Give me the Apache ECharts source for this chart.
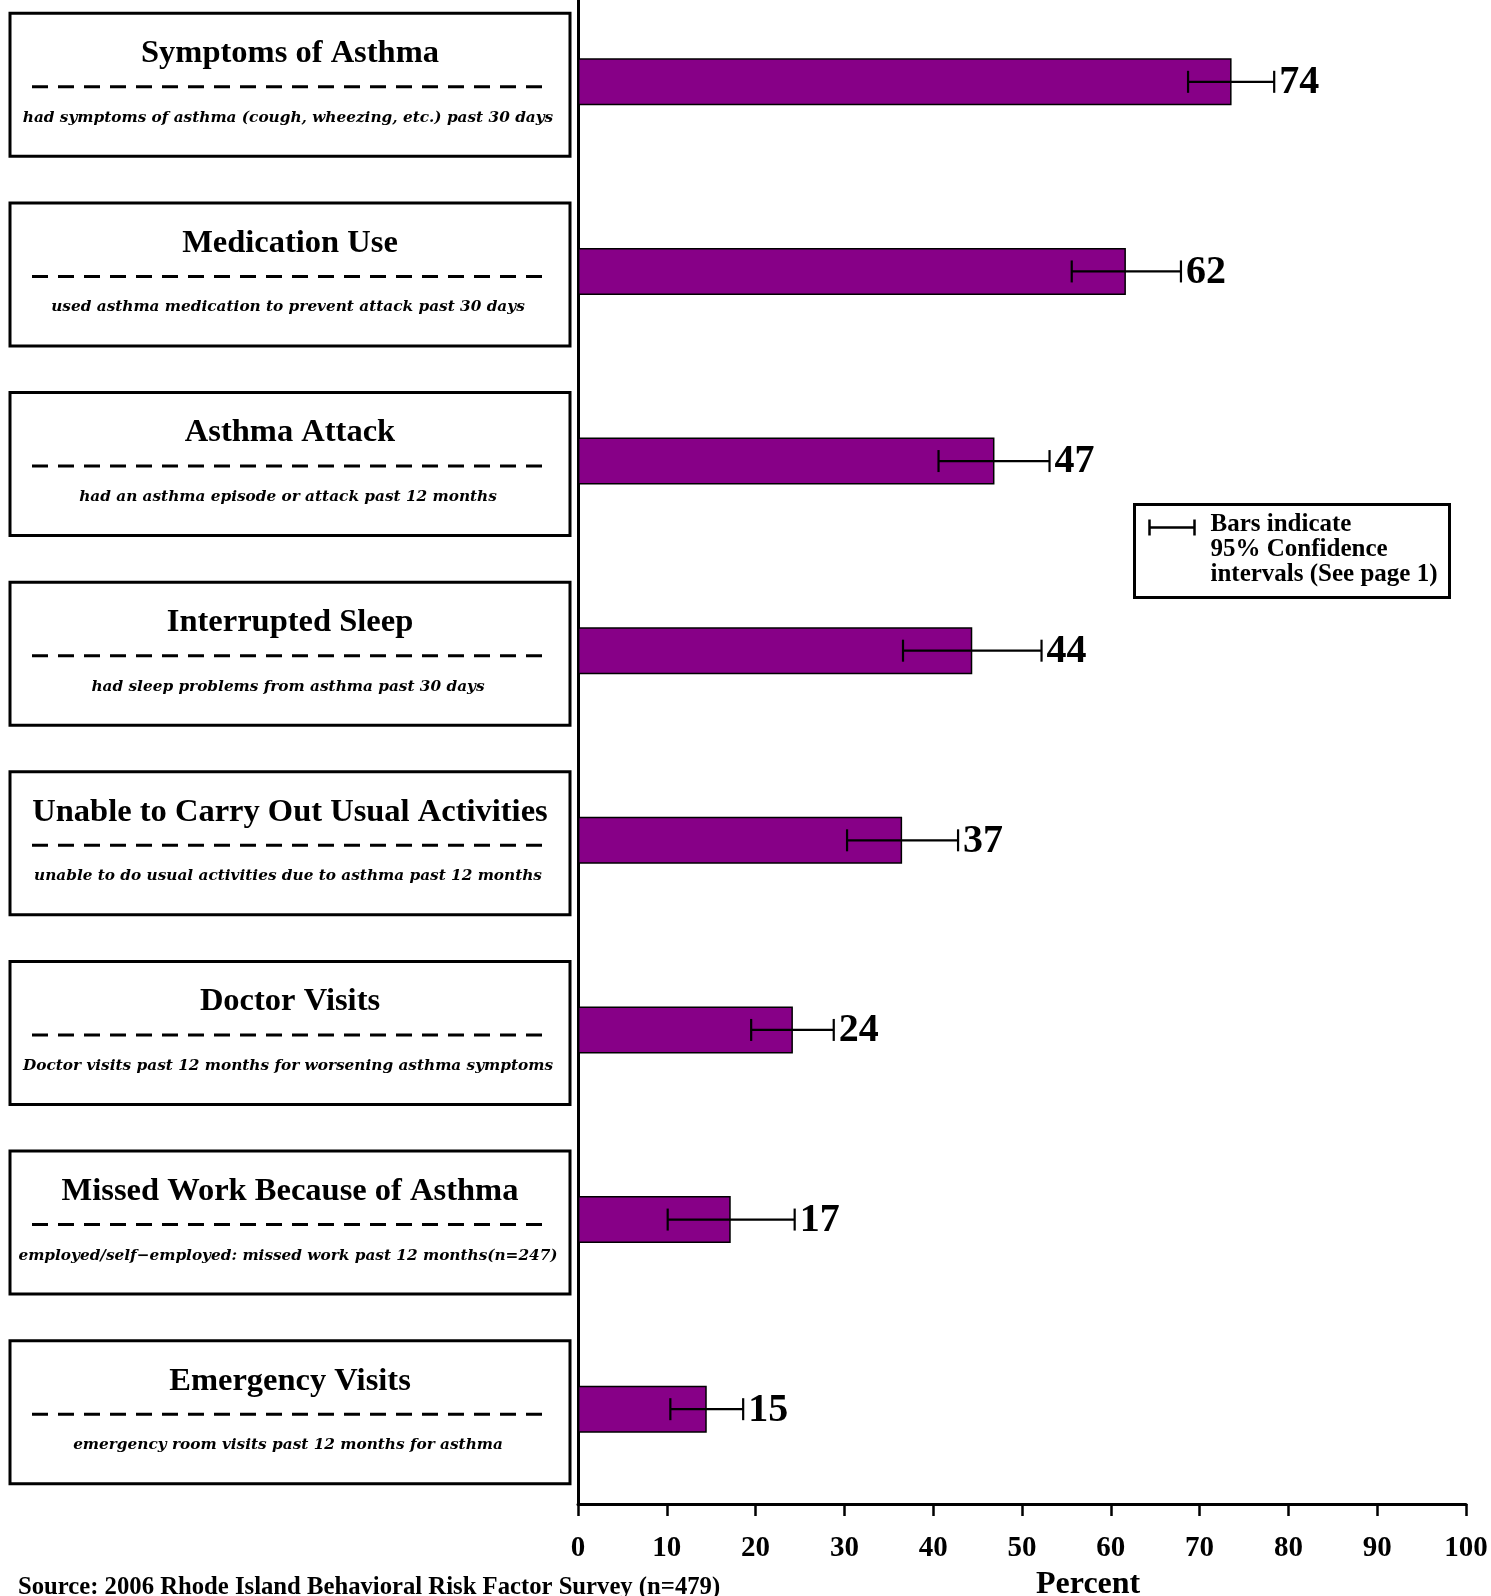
<!DOCTYPE html>
<html>
<head>
<meta charset="utf-8">
<script src="https://cdn.jsdelivr.net/npm/echarts@6/dist/echarts.min.js"></script>
<style>
  html, body { margin: 0; padding: 0; background: #fff; overflow: hidden; }
  /* the category band of the first row starts above the page edge */
  #asthmaChart { width: 1491px; height: 1609px; margin-top: -13px; }
</style>
</head>
<body>
<div id="asthmaChart"></div>
<script>
// categories (top to bottom)
const categories = [
  'Symptoms of Asthma',
  'Medication Use',
  'Asthma Attack',
  'Interrupted Sleep',
  'Unable to Carry Out Usual Activities',
  'Doctor Visits',
  'Missed Work Because of Asthma',
  'Emergency Visits',
];
const subtitles = [
  'had symptoms of asthma (cough, wheezing, etc.) past 30 days',
  'used asthma medication to prevent attack past 30 days',
  'had an asthma episode or attack past 12 months',
  'had sleep problems from asthma past 30 days',
  'unable to do usual activities due to asthma past 12 months',
  'Doctor visits past 12 months for worsening asthma symptoms',
  'employed/self\u2212employed: missed work past 12 months(n=247)',
  'emergency room visits past 12 months for asthma',
];
const values = [73.6, 61.7, 46.9, 44.4, 36.5, 24.2, 17.2, 14.5];
const valueLabels = ['74', '62', '47', '44', '37', '24', '17', '15'];
const ciLow = [68.7, 55.6, 40.6, 36.6, 30.3, 19.5, 10.1, 10.4];
const ciHigh = [78.4, 67.9, 53.1, 52.2, 42.8, 28.8, 24.4, 18.6];
const xTicks = [0, 10, 20, 30, 40, 50, 60, 70, 80, 90, 100];

const serif = '"Liberation Serif", "Times New Roman", serif';
const italicFont = '"DejaVu Serif", serif';
const shiftY = 13; // chart div is moved up by this much

const myChart = echarts.init(document.getElementById('asthmaChart'));

const errorData = values.map((v, i) => [i, ciLow[i], ciHigh[i]]);
const boxData = categories.map((c, i) => [0, i]);

const option = {
  animation: false,
  grid: { left: 578, right: 25, top: 0, bottom: 92 },
  xAxis: {
    type: 'value',
    min: xTicks[0],
    max: xTicks[xTicks.length - 1],
    interval: 10,
    splitLine: { show: false },
    axisLine: { show: true, lineStyle: { color: '#000', width: 3 } },
    axisTick: { show: true, length: 12, lineStyle: { color: '#000', width: 2.5 } },
    axisLabel: {
      margin: 30,
      color: '#000',
      fontFamily: serif,
      fontWeight: 'bold',
      fontSize: 29,
    },
  },
  yAxis: {
    type: 'category',
    data: categories,
    inverse: true,
    offset: 2,
    axisLine: { show: true, lineStyle: { color: '#000', width: 3 } },
    axisTick: { show: false },
    axisLabel: { show: false },
  },
  series: [
    {
      type: 'bar',
      data: values,
      barWidth: 47,
      z: 2,
      itemStyle: { color: '#870087', borderColor: '#000', borderWidth: 1.5 },
      silent: true,
    },
    {
      // error bars + value labels
      type: 'custom',
      data: errorData,
      clip: false,
      silent: true,
      z: 10,
      encode: { x: [1, 2], y: 0 },
      renderItem(params, api) {
        const idx = api.value(0);
        const lo = api.coord([api.value(1), idx]);
        const hi = api.coord([api.value(2), idx]);
        const cap = 11;
        const style = { stroke: '#000', lineWidth: 2.2 };
        return {
          type: 'group',
          children: [
            { type: 'line', shape: { x1: lo[0], y1: lo[1], x2: hi[0], y2: hi[1] }, style },
            { type: 'line', shape: { x1: lo[0], y1: lo[1] - cap, x2: lo[0], y2: lo[1] + cap }, style },
            { type: 'line', shape: { x1: hi[0], y1: hi[1] - cap, x2: hi[0], y2: hi[1] + cap }, style },
            {
              type: 'text',
              x: hi[0] + 5,
              y: hi[1] + 1,
              style: {
                text: valueLabels[idx],
                fill: '#000',
                font: 'bold 40px ' + serif,
                textAlign: 'left',
                textVerticalAlign: 'middle',
              },
            },
          ],
        };
      },
    },
    {
      // label boxes on the left
      type: 'custom',
      data: boxData,
      clip: false,
      silent: true,
      encode: { x: 0, y: 1 },
      renderItem(params, api) {
        const idx = api.value(1);
        const cy = api.coord([0, idx])[1] + 3;
        return {
          type: 'group',
          children: [
            {
              type: 'rect',
              shape: { x: 10, y: cy - 71.5, width: 560, height: 143 },
              style: { fill: '#fff', stroke: '#000', lineWidth: 3 },
            },
            {
              type: 'text',
              x: 290,
              y: cy - 31,
              style: {
                text: categories[idx],
                fill: '#000',
                font: 'bold 32.5px ' + serif,
                textAlign: 'center',
                textVerticalAlign: 'middle',
              },
            },
            {
              type: 'line',
              shape: { x1: 32, y1: cy + 2, x2: 550, y2: cy + 2 },
              style: { stroke: '#000', lineWidth: 3, lineDash: [16, 10] },
            },
            {
              type: 'text',
              x: 288,
              y: cy + 33,
              style: {
                text: subtitles[idx],
                fill: '#000',
                font: 'italic bold 15.3px ' + italicFont,
                textAlign: 'center',
                textVerticalAlign: 'middle',
              },
            },
          ],
        };
      },
    },
  ],
  graphic: [
    {
      type: 'text',
      left: 1036,
      top: 1569 + shiftY,
      style: { text: 'Percent', fill: '#000', font: 'bold 32px ' + serif },
    },
    {
      type: 'text',
      left: 18,
      top: 1575 + shiftY,
      style: {
        text: 'Source: 2006 Rhode Island Behavioral Risk Factor Survey (n=479)',
        fill: '#000',
        font: 'bold 24.7px ' + serif,
      },
    },
    {
      type: 'group',
      left: 1133,
      top: 503 + shiftY,
      children: [
        {
          type: 'rect',
          shape: { x: 0, y: 0, width: 315, height: 93 },
          style: { fill: '#fff', stroke: '#000', lineWidth: 3 },
        },
        { type: 'line', shape: { x1: 15, y1: 23, x2: 60, y2: 23 }, style: { stroke: '#000', lineWidth: 2.5 } },
        { type: 'line', shape: { x1: 15, y1: 15, x2: 15, y2: 31 }, style: { stroke: '#000', lineWidth: 2.5 } },
        { type: 'line', shape: { x1: 60, y1: 15, x2: 60, y2: 31 }, style: { stroke: '#000', lineWidth: 2.5 } },
        {
          type: 'text',
          x: 76,
          y: 8,
          style: {
            text: 'Bars indicate\n95% Confidence\nintervals (See page 1)',
            fill: '#000',
            font: 'bold 25px ' + serif,
            lineHeight: 25,
          },
        },
      ],
    },
  ],
};

myChart.setOption(option);
</script>
</body>
</html>
